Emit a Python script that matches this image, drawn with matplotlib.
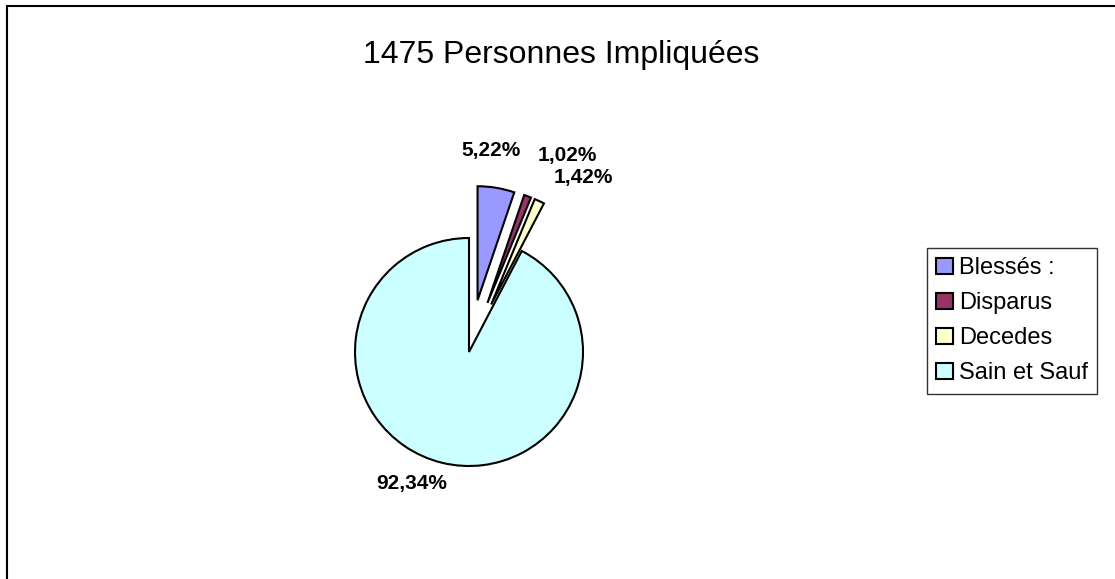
import matplotlib
matplotlib.use('Agg')
import matplotlib.pyplot as plt
from matplotlib.patches import Rectangle, Patch

plt.rcParams['font.family'] = ['Liberation Sans', 'DejaVu Sans']

# data
categories = ['Blessés :', 'Disparus', 'Decedes', 'Sain et Sauf']
counts = [77, 15, 21, 1362]
colors = ['#9999FF', '#993366', '#FFFFCC', '#CCFFFF']
title = '1475 Personnes Impliquées'

total = sum(counts)
pct_labels = [('%.2f%%' % (100.0 * c / total)).replace('.', ',') for c in counts]

# label positions, in pie-radius units
label_pos = [(0.19, 1.77), (0.86, 1.72), (1.00, 1.535), (-0.50, -1.15)]

W, H = 1115, 579
fig = plt.figure(figsize=(W / 100, H / 100), dpi=100)
fig.patch.set_facecolor('white')

# pie centre and radius in pixels
cx, cy, R = 469, 352, 114
ax = fig.add_axes([0, 0, 1, 1])
ax.pie(counts, colors=colors, startangle=90, counterclock=False,
       explode=[0.46, 0.46, 0.46, 0],
       wedgeprops={'edgecolor': 'black', 'linewidth': 1.5})
ax.set_aspect('auto')
ax.set_xlim(-cx / R, (W - cx) / R)
ax.set_ylim(-(H - cy) / R, cy / R)
ax.axis('off')

for (x, y), s in zip(label_pos, pct_labels):
    ax.text(x, y, s, ha='center', va='center', fontsize=15, fontweight='bold')

fig.text(561.5 / W, 1 - 55 / H, title, ha='center', va='center', fontsize=23)

handles = [Patch(facecolor=c, edgecolor='black', linewidth=1.5) for c in colors]
leg = fig.legend(handles, categories, loc='upper left',
                 bbox_to_anchor=(927 / W, 1 - 248 / H), fontsize=17,
                 frameon=True, fancybox=False, shadow=False,
                 handlelength=0.7, handleheight=0.7, handletextpad=0.25,
                 labelspacing=0.55, borderpad=0.4, borderaxespad=0)
leg.get_frame().set_edgecolor('black')
leg.get_frame().set_linewidth(1.0)

# outer chart frame (cut off at right and bottom)
frame = Rectangle((7 / W, -0.5), 2, 1.5 - 6 / H, transform=fig.transFigure,
                  fill=False, edgecolor='black', linewidth=1.5, clip_on=False)
fig.add_artist(frame)

fig.savefig('out.png', dpi=100)
